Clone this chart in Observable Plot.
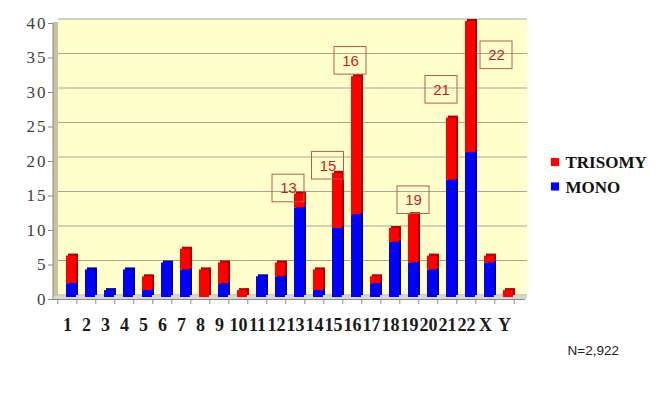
<!DOCTYPE html>
<html>
<head>
<meta charset="utf-8">
<script src="https://cdn.jsdelivr.net/npm/d3@7"></script>
<script src="https://cdn.jsdelivr.net/npm/@observablehq/plot@0.6"></script>
<style>
  html, body { margin: 0; padding: 0; background: #ffffff; }
  #chart { width: 666px; height: 393px; }
</style>
</head>
<body>
<div id="chart"></div>
<script>
// ---- data ----
const chromosomes = ["1","2","3","4","5","6","7","8","9","10","11","12","13","14","15","16","17","18","19","20","21","22","X","Y"];
const mono    = [2,4,1,4,1,5,4,0,2,0,3,3,13,1,10,12,2,8,5,4,17,21,5,0];
const trisomy = [4,0,0,0,2,0,3,4,3,1,0,2,2,3,8,20,1,2,7,2,9,19,1,1];
const yTicks = [0,5,10,15,20,25,30,35,40];
const seriesNames = ["TRISOMY","MONO"];
const annChr = ["13","15","16","19","21","22"];
const annY   = [15.8,19.1,34.3,14.1,30.1,35.1];
const noteText = "N=2,922";

// ---- build tables ----
const rows = chromosomes.map((c,i) => ({chr: c, mono: mono[i], tri: trisomy[i]}));
const annotations = annChr.map((c,i) => ({chr: c, y: annY[i]}));
const annDx = [-11,-9.5,-6,0,-10,26];

const W = 666, H = 393, mL = 56, mR = 143, mT = 21, mB = 96;
const FW = W - mL - mR;
const pIn = 0.5, pOut = 0.27;
const step = FW / (chromosomes.length - pIn + 2*pOut);

const RED = "#ff0000", BLUE = "#0000ff", RED_D = "#b00000", BLUE_D = "#0000a8";
const serif = "Liberation Serif";
const sans = "Liberation Sans";
const AXIS = "#8a8a8a";

const marks = [
  // back wall
  Plot.frame({fill: "#ffffcc", stroke: "none", insetLeft: 2, insetRight: -4, insetTop: -2, insetBottom: 2}),
  // left wall
  Plot.rect([0], {y1: 0, y2: 40, fill: "#c9c29a", insetLeft: -3, insetRight: FW - 2, dy: 1}),
  // gridlines
  Plot.ruleY(yTicks, {stroke: "#a8a491", strokeWidth: 1, dy: -2.5, insetLeft: 2, insetRight: -4}),
  // floor
  Plot.rect([0], {y1: 0, y2: 0.5, fill: "#d8d8d0", insetLeft: -3, insetRight: -4, dy: 2}),
  // 3D sides
  Plot.barY(rows, {x: "chr", y1: 0, y2: "mono", fill: BLUE_D, dx: 2, dy: -2}),
  Plot.barY(rows, {x: "chr", y1: "mono", y2: d => d.mono + d.tri, fill: RED_D, dx: 2, dy: -2}),
  // fronts
  Plot.barY(rows, {x: "chr", y1: 0, y2: "mono", fill: BLUE}),
  Plot.barY(rows, {x: "chr", y1: "mono", y2: d => d.mono + d.tri, fill: RED}),
  // bottom axis line
  Plot.ruleY([0], {stroke: AXIS, dy: 2, insetLeft: -3, insetRight: -2}),
  // category separator ticks
  Plot.ruleX(rows, {x: "chr", y1: 0, y2: -0.75, stroke: AXIS, dy: 2, dx: -step/2 - 4}),
  Plot.ruleX(rows.slice(-1), {x: "chr", y1: 0, y2: -0.75, stroke: AXIS, dy: 2, dx: step/2 - 4}),
  // left axis line
  Plot.rect([0], {y1: 0, y2: 40, fill: AXIS, insetLeft: -3.5, insetRight: FW + 2.5, dy: 2}),
  // y ticks and labels
  Plot.ruleY(yTicks, {stroke: AXIS, dy: 2, insetLeft: -8, insetRight: FW + 3}),
  Plot.text(yTicks, {y: d => d, text: d => String(d), frameAnchor: "left", textAnchor: "end", dx: -9, dy: 2, fontFamily: serif, fontSize: 17, fill: "#404040"}),
  // x labels
  Plot.axisX({tickSize: 0, tickPadding: 21, dx: -4, fontSize: 18, fontWeight: "bold", fontFamily: serif, fill: "#1a1a1a", label: null}),
];

// annotation boxes
annotations.forEach((a, i) => {
  marks.push(Plot.barY([a], {x: "chr", y1: d => d.y - 2, y2: d => d.y + 2, fill: "none", stroke: "#b85a50", strokeWidth: 1, insetLeft: -11, insetRight: -11, dx: annDx[i]}));
  marks.push(Plot.text([a], {x: "chr", y: "y", text: "chr", dx: annDx[i], fill: "#c81e1e", fontFamily: sans, fontSize: 15}));
});

// legend
const legendColors = [RED, BLUE];
seriesNames.forEach((s, i) => {
  const dy = 140.5 + i * 24.5;
  marks.push(Plot.dot([s], {frameAnchor: "top-right", dx: 31.5, dy, symbol: "square", r: 4.6, fill: legendColors[i], stroke: "none"}));
  marks.push(Plot.text([s], {frameAnchor: "top-right", lineAnchor: "middle", dx: 42, dy: dy + 1, textAnchor: "start", fontWeight: "bold", fontSize: 17, fontFamily: serif, fill: "#111"}));
});

// note
marks.push(Plot.text([noteText], {frameAnchor: "bottom-right", lineAnchor: "middle", dx: 44, dy: 53, textAnchor: "start", fontFamily: sans, fontSize: 13.5, fill: "#222"}));

const chart = Plot.plot({
  width: W, height: H,
  marginLeft: mL, marginRight: mR, marginTop: mT, marginBottom: mB,
  style: {background: "#ffffff", fontFamily: serif, overflow: "visible"},
  x: {type: "band", domain: chromosomes, paddingInner: pIn, paddingOuter: pOut, axis: null},
  y: {domain: [0, 40], axis: null},
  marks
});
// widen the y tick labels slightly (the reference's digits are horizontally stretched)
d3.select(chart).selectAll('g[text-anchor="end"] text').style("letter-spacing", "2px");
document.getElementById("chart").appendChild(chart);
</script>
</body>
</html>
